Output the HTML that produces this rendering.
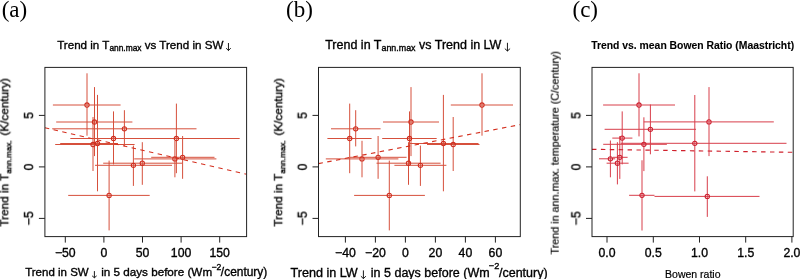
<!DOCTYPE html>
<html><head><meta charset="utf-8"><style>
html,body{margin:0;padding:0;background:#fff;width:800px;height:279px;overflow:hidden}
svg{display:block}
text{will-change:transform}
text{font-family:"Liberation Sans",sans-serif;fill:#000;stroke:#000;stroke-width:0.35px}
text.serif{font-family:"Liberation Serif",serif;stroke:none}
</style></head><body>
<svg width="800" height="279" viewBox="0 0 800 279">
<rect width="800" height="279" fill="#fff"/>
<clipPath id="c44"><rect x="44.9" y="67.4" width="201.7" height="169.2"/></clipPath>
<g clip-path="url(#c44)">
<g stroke="rgb(214,80,60)" stroke-width="1" fill="none">
<line x1="52.9" y1="105.0" x2="120.6" y2="105.0"/><line x1="87.0" y1="73.3" x2="87.0" y2="135.7"/>
<line x1="56.2" y1="122.0" x2="132.4" y2="122.0"/><line x1="94.5" y1="87.1" x2="94.5" y2="156.1"/>
<line x1="52.2" y1="128.8" x2="196.5" y2="128.8"/><line x1="124.4" y1="110.2" x2="124.4" y2="146.4"/>
<line x1="70.3" y1="138.5" x2="160" y2="138.5"/><line x1="113.5" y1="111.4" x2="113.5" y2="164.4"/>
<line x1="55.2" y1="144.5" x2="134.6" y2="144.5"/><line x1="93.0" y1="117.0" x2="93.0" y2="171.0"/>
<line x1="60.2" y1="143.5" x2="118" y2="143.5"/><line x1="97.5" y1="94.9" x2="97.5" y2="191.3"/>
<line x1="120" y1="138.5" x2="239.7" y2="138.5"/><line x1="176.4" y1="103.6" x2="176.4" y2="173.2"/>
<line x1="95.0" y1="165.3" x2="172.0" y2="165.3"/><line x1="133.4" y1="145.6" x2="133.4" y2="185.9"/>
<line x1="103.2" y1="163.2" x2="182.2" y2="163.2"/><line x1="142.3" y1="142.2" x2="142.3" y2="184.8"/>
<line x1="134.2" y1="158.9" x2="216.4" y2="158.9"/><line x1="174.9" y1="140.8" x2="174.9" y2="177.3"/>
<line x1="151.2" y1="157.3" x2="214.5" y2="157.3"/><line x1="182.6" y1="136.0" x2="182.6" y2="178.8"/>
<line x1="68.2" y1="195.4" x2="149.7" y2="195.4"/><line x1="109.1" y1="160.6" x2="109.1" y2="230.4"/>
</g>
<g stroke="#cf2e20" stroke-width="1.05" fill="none">
<circle cx="87.0" cy="105.0" r="2.15"/>
<circle cx="94.5" cy="122.0" r="2.15"/>
<circle cx="124.4" cy="128.8" r="2.15"/>
<circle cx="113.5" cy="138.5" r="2.15"/>
<circle cx="93.0" cy="144.5" r="2.15"/>
<circle cx="97.5" cy="143.5" r="2.15"/>
<circle cx="176.4" cy="138.5" r="2.15"/>
<circle cx="133.4" cy="165.3" r="2.15"/>
<circle cx="142.3" cy="163.2" r="2.15"/>
<circle cx="174.9" cy="158.9" r="2.15"/>
<circle cx="182.6" cy="157.3" r="2.15"/>
<circle cx="109.1" cy="195.4" r="2.15"/>
</g>
<line x1="44.9" y1="127.8" x2="246.6" y2="174.3" stroke="#d4301f" stroke-width="1.15" stroke-dasharray="4.45 4.45"/>
</g>
<rect x="44.9" y="67.4" width="201.7" height="169.2" fill="none" stroke="#222" stroke-width="1"/>
<g stroke="#222" stroke-width="1">
<line x1="65.3" y1="236.6" x2="65.3" y2="242.6"/>
<line x1="103.9" y1="236.6" x2="103.9" y2="242.6"/>
<line x1="142.5" y1="236.6" x2="142.5" y2="242.6"/>
<line x1="181.1" y1="236.6" x2="181.1" y2="242.6"/>
<line x1="219.7" y1="236.6" x2="219.7" y2="242.6"/>
</g>
<text x="65.3" y="257.4" font-size="12.25" text-anchor="middle">−50</text>
<text x="103.9" y="257.4" font-size="12.25" text-anchor="middle">0</text>
<text x="142.5" y="257.4" font-size="12.25" text-anchor="middle">50</text>
<text x="181.1" y="257.4" font-size="12.25" text-anchor="middle">100</text>
<text x="219.7" y="257.4" font-size="12.25" text-anchor="middle">150</text>
<g stroke="#222" stroke-width="1">
<line x1="38.9" y1="115.4" x2="44.9" y2="115.4"/>
<line x1="38.9" y1="166.9" x2="44.9" y2="166.9"/>
<line x1="38.9" y1="218.4" x2="44.9" y2="218.4"/>
</g>
<text transform="translate(33.1,115.4) rotate(-90)" font-size="12.25" text-anchor="middle">5</text>
<text transform="translate(33.1,166.9) rotate(-90)" font-size="12.25" text-anchor="middle">0</text>
<text transform="translate(33.1,218.4) rotate(-90)" font-size="12.25" text-anchor="middle">−5</text>
<clipPath id="c318"><rect x="318.5" y="67.4" width="201.79999999999995" height="169.2"/></clipPath>
<g clip-path="url(#c318)">
<g stroke="rgb(214,80,60)" stroke-width="1" fill="none">
<line x1="450.8" y1="105.0" x2="513.0" y2="105.0"/><line x1="482.0" y1="73.3" x2="482.0" y2="135.7"/>
<line x1="383.0" y1="122.0" x2="439.0" y2="122.0"/><line x1="411.0" y1="87.1" x2="411.0" y2="156.1"/>
<line x1="331.0" y1="128.8" x2="380.6" y2="128.8"/><line x1="355.7" y1="110.2" x2="355.7" y2="146.4"/>
<line x1="382.2" y1="138.5" x2="436.7" y2="138.5"/><line x1="409.5" y1="111.4" x2="409.5" y2="164.4"/>
<line x1="427.0" y1="144.5" x2="479.5" y2="144.5"/><line x1="453.2" y1="117.0" x2="453.2" y2="171.0"/>
<line x1="409.0" y1="143.5" x2="478.5" y2="143.5"/><line x1="443.4" y1="94.9" x2="443.4" y2="191.3"/>
<line x1="327.4" y1="138.5" x2="371.6" y2="138.5"/><line x1="349.7" y1="103.6" x2="349.7" y2="173.2"/>
<line x1="394.4" y1="165.3" x2="446.4" y2="165.3"/><line x1="420.4" y1="145.6" x2="420.4" y2="185.9"/>
<line x1="376.5" y1="163.2" x2="440.6" y2="163.2"/><line x1="408.5" y1="142.2" x2="408.5" y2="184.8"/>
<line x1="325.8" y1="158.9" x2="398.4" y2="158.9"/><line x1="362.0" y1="140.8" x2="362.0" y2="177.3"/>
<line x1="349.7" y1="157.3" x2="406.6" y2="157.3"/><line x1="378.1" y1="136.0" x2="378.1" y2="178.8"/>
<line x1="354.1" y1="195.4" x2="424.9" y2="195.4"/><line x1="389.3" y1="160.6" x2="389.3" y2="230.4"/>
</g>
<g stroke="#cf2e20" stroke-width="1.05" fill="none">
<circle cx="482.0" cy="105.0" r="2.15"/>
<circle cx="411.0" cy="122.0" r="2.15"/>
<circle cx="355.7" cy="128.8" r="2.15"/>
<circle cx="409.5" cy="138.5" r="2.15"/>
<circle cx="453.2" cy="144.5" r="2.15"/>
<circle cx="443.4" cy="143.5" r="2.15"/>
<circle cx="349.7" cy="138.5" r="2.15"/>
<circle cx="420.4" cy="165.3" r="2.15"/>
<circle cx="408.5" cy="163.2" r="2.15"/>
<circle cx="362.0" cy="158.9" r="2.15"/>
<circle cx="378.1" cy="157.3" r="2.15"/>
<circle cx="389.3" cy="195.4" r="2.15"/>
</g>
<line x1="318.5" y1="163.6" x2="520.3" y2="124.6" stroke="#d4301f" stroke-width="1.15" stroke-dasharray="4.45 4.45"/>
</g>
<rect x="318.5" y="67.4" width="201.79999999999995" height="169.2" fill="none" stroke="#222" stroke-width="1"/>
<g stroke="#222" stroke-width="1">
<line x1="345.4" y1="236.6" x2="345.4" y2="242.6"/>
<line x1="375.4" y1="236.6" x2="375.4" y2="242.6"/>
<line x1="405.4" y1="236.6" x2="405.4" y2="242.6"/>
<line x1="435.4" y1="236.6" x2="435.4" y2="242.6"/>
<line x1="465.4" y1="236.6" x2="465.4" y2="242.6"/>
<line x1="495.4" y1="236.6" x2="495.4" y2="242.6"/>
</g>
<text x="345.4" y="257.4" font-size="12.25" text-anchor="middle">−40</text>
<text x="375.4" y="257.4" font-size="12.25" text-anchor="middle">−20</text>
<text x="405.4" y="257.4" font-size="12.25" text-anchor="middle">0</text>
<text x="435.4" y="257.4" font-size="12.25" text-anchor="middle">20</text>
<text x="465.4" y="257.4" font-size="12.25" text-anchor="middle">40</text>
<text x="495.4" y="257.4" font-size="12.25" text-anchor="middle">60</text>
<g stroke="#222" stroke-width="1">
<line x1="312.5" y1="115.4" x2="318.5" y2="115.4"/>
<line x1="312.5" y1="166.9" x2="318.5" y2="166.9"/>
<line x1="312.5" y1="218.4" x2="318.5" y2="218.4"/>
</g>
<text transform="translate(306.75,115.4) rotate(-90)" font-size="12.25" text-anchor="middle">5</text>
<text transform="translate(306.75,166.9) rotate(-90)" font-size="12.25" text-anchor="middle">0</text>
<text transform="translate(306.75,218.4) rotate(-90)" font-size="12.25" text-anchor="middle">−5</text>
<clipPath id="c592"><rect x="592.0" y="67.4" width="201.20000000000005" height="169.2"/></clipPath>
<g clip-path="url(#c592)">
<g stroke="rgb(216,62,74)" stroke-width="1" fill="none">
<line x1="603.1" y1="105.0" x2="675.0" y2="105.0"/><line x1="639.0" y1="73.3" x2="639.0" y2="136.4"/>
<line x1="643.8" y1="121.9" x2="773.8" y2="121.9"/><line x1="709.0" y1="87.1" x2="709.0" y2="156.1"/>
<line x1="604.6" y1="129.3" x2="696.0" y2="129.3"/><line x1="650.4" y1="104.5" x2="650.4" y2="154.3"/>
<line x1="612.3" y1="138.1" x2="632.4" y2="138.1"/><line x1="622.2" y1="111.4" x2="622.2" y2="164.4"/>
<line x1="603.2" y1="144.3" x2="666.9" y2="144.3"/><line x1="643.9" y1="117.3" x2="643.9" y2="171.1"/>
<line x1="620.7" y1="143.3" x2="786.5" y2="143.3"/><line x1="694.8" y1="95.0" x2="694.8" y2="191.4"/>
<line x1="606.6" y1="163.2" x2="628.6" y2="163.2"/><line x1="617.4" y1="142.2" x2="617.4" y2="184.4"/>
<line x1="599.0" y1="158.8" x2="615.2" y2="158.8"/><line x1="610.4" y1="140.5" x2="610.4" y2="177.3"/>
<line x1="613.0" y1="157.3" x2="627.6" y2="157.3"/><line x1="619.8" y1="136.0" x2="619.8" y2="178.9"/>
<line x1="629.1" y1="195.3" x2="654.5" y2="195.3"/><line x1="642.0" y1="160.3" x2="642.0" y2="230.5"/>
<line x1="654.5" y1="196.4" x2="759.5" y2="196.4"/><line x1="707.3" y1="176.3" x2="707.3" y2="216.9"/>
</g>
<g stroke="#cc2030" stroke-width="1.05" fill="none">
<circle cx="639.0" cy="105.0" r="2.15"/>
<circle cx="709.0" cy="121.9" r="2.15"/>
<circle cx="650.4" cy="129.3" r="2.15"/>
<circle cx="622.2" cy="138.1" r="2.15"/>
<circle cx="643.9" cy="144.3" r="2.15"/>
<circle cx="694.8" cy="143.3" r="2.15"/>
<circle cx="617.4" cy="163.2" r="2.15"/>
<circle cx="610.4" cy="158.8" r="2.15"/>
<circle cx="619.8" cy="157.3" r="2.15"/>
<circle cx="642.0" cy="195.3" r="2.15"/>
<circle cx="707.3" cy="196.4" r="2.15"/>
</g>
<line x1="592.0" y1="149.3" x2="793.2" y2="152.3" stroke="#d0202c" stroke-width="1.15" stroke-dasharray="4.45 4.45"/>
</g>
<rect x="592.0" y="67.4" width="201.20000000000005" height="169.2" fill="none" stroke="#222" stroke-width="1"/>
<g stroke="#222" stroke-width="1">
<line x1="607.0" y1="236.6" x2="607.0" y2="242.6"/>
<line x1="653.3" y1="236.6" x2="653.3" y2="242.6"/>
<line x1="699.5" y1="236.6" x2="699.5" y2="242.6"/>
<line x1="745.7" y1="236.6" x2="745.7" y2="242.6"/>
<line x1="791.9" y1="236.6" x2="791.9" y2="242.6"/>
</g>
<text x="607.0" y="257.4" font-size="12.25" text-anchor="middle">0.0</text>
<text x="653.3" y="257.4" font-size="12.25" text-anchor="middle">0.5</text>
<text x="699.5" y="257.4" font-size="12.25" text-anchor="middle">1.0</text>
<text x="745.7" y="257.4" font-size="12.25" text-anchor="middle">1.5</text>
<text x="791.9" y="257.4" font-size="12.25" text-anchor="middle">2.0</text>
<g stroke="#222" stroke-width="1">
<line x1="586.0" y1="115.4" x2="592.0" y2="115.4"/>
<line x1="586.0" y1="166.9" x2="592.0" y2="166.9"/>
<line x1="586.0" y1="218.4" x2="592.0" y2="218.4"/>
</g>
<text transform="translate(580.4,115.4) rotate(-90)" font-size="12.25" text-anchor="middle">5</text>
<text transform="translate(580.4,166.9) rotate(-90)" font-size="12.25" text-anchor="middle">0</text>
<text transform="translate(580.4,218.4) rotate(-90)" font-size="12.25" text-anchor="middle">−5</text>
<text x="57.2" y="48.5" font-size="11.6">Trend in T<tspan font-size="8.4" dy="2.7">ann.max</tspan><tspan dy="-2.7"> vs Trend in SW</tspan></text>
<path d="M228.45 43.0V50.5M226.1 48.2L228.45 50.5L230.79999999999998 48.2" fill="none" stroke="#000" stroke-width="0.9"/>
<text x="325.2" y="48.7" font-size="12.5">Trend in T<tspan font-size="8.9" dy="2.6">ann.max</tspan><tspan dy="-2.6"> vs Trend in LW</tspan></text>
<path d="M507.45 42.8V51.0M504.8 48.6L507.45 51.0L510.09999999999997 48.6" fill="none" stroke="#000" stroke-width="0.9"/>
<text x="591.2" y="48.7" font-size="10.38" font-weight="bold" style="stroke-width:0.1px">Trend vs. mean Bowen Ratio (Maastricht)</text>
<text x="25.2" y="276" font-size="11.5">Trend in SW</text>
<path d="M94.4 271.1V277.75M92.15 275.85L94.4 277.75L96.65 275.85" fill="none" stroke="#000" stroke-width="0.9"/>
<text x="101.2" y="276" font-size="11.68">in 5 days before (Wm<tspan font-size="8.6" dy="-6.0" dx="-0.6">−2</tspan><tspan dy="6.0" dx="-0.5" font-size="11.95">/century)</tspan></text>
<text x="290.5" y="276.5" font-size="12.6">Trend in LW</text>
<path d="M363.4 270.4V278.6M360.9 276.20000000000005L363.4 278.6L365.9 276.20000000000005" fill="none" stroke="#000" stroke-width="0.9"/>
<text x="370.8" y="276.5" font-size="12.5">in 5 days before (Wm<tspan font-size="9.2" dy="-7.2" dx="-0.8">−2</tspan><tspan dy="7.2" dx="-0.3">/century)</tspan></text>
<text x="692.8" y="278" font-size="10.5" text-anchor="middle" style="stroke-width:0.2px">Bowen ratio</text>
<text transform="translate(8.3,226.6) rotate(-90)" font-size="11.75">Trend in T<tspan font-size="8.1" dy="2.7">ann.max.</tspan><tspan dy="-2.7" dx="1.6"> (K/century)</tspan></text>
<text transform="translate(282.2,226.6) rotate(-90)" font-size="11.75">Trend in T<tspan font-size="8.1" dy="2.7">ann.max.</tspan><tspan dy="-2.7" dx="1.6"> (K/century)</tspan></text>
<text transform="translate(558.7,152.7) rotate(-90)" font-size="10.75" text-anchor="middle" style="stroke-width:0.2px">Trend in ann.max. temperature (C/century)</text>
<text x="1.7" y="16.5" font-size="23" class="serif">(a)</text>
<text x="286.0" y="16.5" font-size="23" class="serif">(b)</text>
<text x="572.5" y="16.5" font-size="23" class="serif">(c)</text>
</svg>
</body></html>
